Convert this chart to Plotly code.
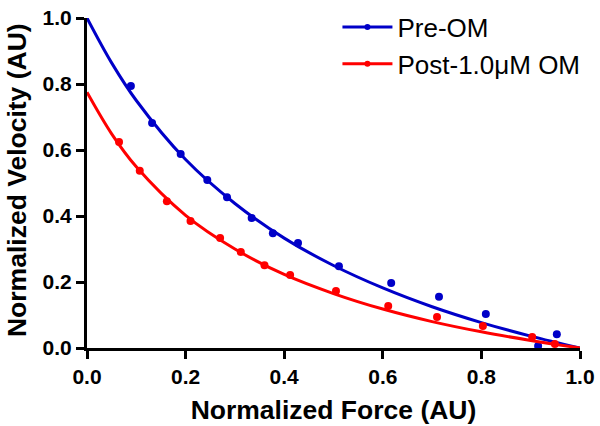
import plotly.graph_objects as go

# Measured data points
pre_force = [0.089, 0.132, 0.19, 0.244, 0.284, 0.334, 0.377, 0.428, 0.511, 0.617, 0.714, 0.809, 0.915, 0.953]
pre_vel = [0.794, 0.682, 0.588, 0.509, 0.457, 0.394, 0.348, 0.318, 0.248, 0.197, 0.155, 0.103, 0.006, 0.042]

post_force = [0.065, 0.107, 0.162, 0.21, 0.27, 0.312, 0.36, 0.412, 0.505, 0.611, 0.71, 0.803, 0.903, 0.949]
post_vel = [0.624, 0.537, 0.445, 0.385, 0.333, 0.291, 0.251, 0.221, 0.173, 0.127, 0.094, 0.067, 0.033, 0.012]

# Fitted curves
curve_force = [0.0, 0.05, 0.1, 0.2, 0.3, 0.4, 0.5, 0.6, 0.7, 0.8, 0.9, 1.0]
pre_curve = [1.0, 0.864, 0.75, 0.571, 0.438, 0.333, 0.25, 0.182, 0.125, 0.077, 0.036, 0.0]
post_curve = [0.775, 0.649, 0.549, 0.402, 0.300, 0.223, 0.165, 0.118, 0.080, 0.049, 0.023, 0.0]

series_names = ["Pre-OM", "Post-1.0\u03bcM OM"]
x_title = "Normalized Force (AU)"
y_title = "Normalized Velocity (AU)"
BLUE = "#0000c8"
RED = "#ff0000"

x_ticks = [0.0, 0.2, 0.4, 0.6, 0.8, 1.0]
y_ticks = [0.0, 0.2, 0.4, 0.6, 0.8, 1.0]

FONT = "Liberation Sans, Arial"

fig = go.Figure()
for name, cf, cv, px, pv, col in [
    (series_names[0], curve_force, pre_curve, pre_force, pre_vel, BLUE),
    (series_names[1], curve_force, post_curve, post_force, post_vel, RED),
]:
    fig.add_trace(go.Scatter(x=cf, y=cv, mode="lines", line=dict(color=col, width=3, shape="spline"),
                             showlegend=False, cliponaxis=False, hoverinfo="skip"))
    fig.add_trace(go.Scatter(x=px, y=pv, mode="markers", marker=dict(color=col, size=8),
                             showlegend=False, cliponaxis=False))
    fig.add_trace(go.Scatter(x=[None], y=[None], mode="lines+markers", name=name,
                             line=dict(color=col, width=3), marker=dict(color=col, size=6)))

axis_common = dict(
    range=[0, 1], showline=True, linecolor="black", linewidth=3, ticks="outside",
    ticklen=8, tickwidth=3, tickcolor="black", showgrid=False, zeroline=False,
    tickformat=".1f", automargin=False, ticklabeloverflow="allow",
    tickfont=dict(family=FONT, size=21, color="black", weight="bold"),
)

fig.update_layout(
    width=600, height=426,
    margin=dict(l=87, r=20, t=18, b=78, autoexpand=False),
    paper_bgcolor="white", plot_bgcolor="white",
    xaxis=dict(**axis_common, tickvals=x_ticks,
               title=dict(text="<b>" + x_title + "</b>", standoff=14,
                          font=dict(family=FONT, size=26.5, color="black"))),
    yaxis=dict(**axis_common, tickvals=y_ticks),
    legend=dict(x=0.508, y=1.044, xanchor="left", yanchor="top", bgcolor="rgba(0,0,0,0)",
                font=dict(family=FONT, size=26, color="black"),
                itemwidth=50, tracegroupgap=0),
    annotations=[dict(text="<b>" + y_title + "</b>", textangle=-90, xref="paper", yref="paper",
                      x=-0.142, y=0.509, xanchor="center", yanchor="middle", showarrow=False,
                      font=dict(family=FONT, size=26.5, color="black"))],
)

fig.write_html("out.html", config={"displayModeBar": False},
               post_script="document.body.style.margin='0px';")
